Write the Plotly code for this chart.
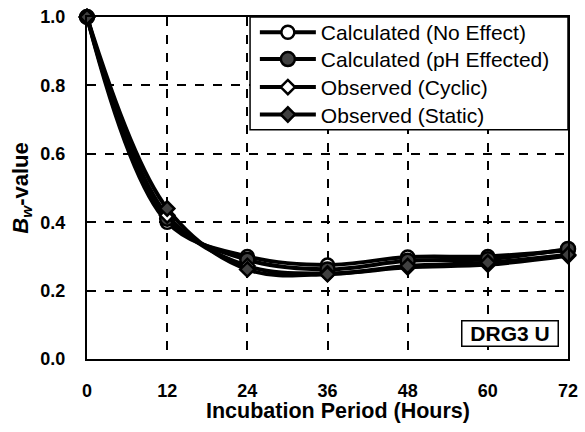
import plotly.graph_objects as go

hours = [0, 12, 24, 36, 48, 60, 72]
calc_no_effect = [1.0, 0.40, 0.300, 0.275, 0.298, 0.300, 0.318]
calc_ph = [1.0, 0.41, 0.290, 0.262, 0.287, 0.292, 0.322]
obs_cyclic = [1.0, 0.42, 0.272, 0.250, 0.268, 0.276, 0.302]
obs_static = [1.0, 0.44, 0.262, 0.248, 0.272, 0.282, 0.305]

names = ["Calculated (No Effect)", "Calculated (pH Effected)",
         "Observed (Cyclic)", "Observed (Static)"]
series = [calc_no_effect, calc_ph, obs_cyclic, obs_static]
symbols = ["circle", "circle", "diamond", "diamond"]
fills = ["white", "#404040", "white", "#404040"]
sizes = [13, 14, 11, 11]

FONT = "Liberation Sans, Arial, sans-serif"
legend_ids = ["legend", "legend2", "legend3", "legend4"]
legend_rows = [0.9545, 0.876, 0.794, 0.714]

fig = go.Figure()
for name, ys, sym, fc, sz, lg in zip(names, series, symbols, fills, sizes, legend_ids):
    fig.add_trace(go.Scatter(
        x=hours, y=ys, name=name, mode="lines+markers",
        line=dict(color="black", width=4, shape="spline", smoothing=1.0),
        marker=dict(symbol=sym, size=sz, color=fc,
                    line=dict(color="black", width=2.5)),
        cliponaxis=False, legend=lg,
    ))

# legend frame (drawn as a box behind the legend entries)
fig.add_shape(type="rect", xref="paper", yref="paper",
              x0=0.339, x1=1.0, y0=0.670, y1=1.0,
              line=dict(color="black", width=1.5), fillcolor="white",
              layer="above")

legend_common = dict(
    x=0.349, xanchor="left", yanchor="middle",
    bgcolor="rgba(0,0,0,0)", borderwidth=0,
    font=dict(size=21, family=FONT, color="black"),
    itemwidth=56,
)
layout_legends = {lg: dict(y=yr, **legend_common) for lg, yr in zip(legend_ids, legend_rows)}

fig.update_layout(
    width=585, height=432,
    margin=dict(l=87, r=17, t=14, b=73),
    paper_bgcolor="white", plot_bgcolor="white",
    font=dict(family=FONT, color="black"),
    showlegend=True,
    annotations=[
        dict(x=0.879, y=0.076, xref="paper", yref="paper",
             xanchor="center", yanchor="middle",
             text="<b>DRG3 U</b>", showarrow=False,
             width=93, height=22, align="center", valign="middle",
             font=dict(size=21, family=FONT, color="black"),
             bordercolor="black", borderwidth=1.5, borderpad=1,
             bgcolor="white"),
        dict(x=0.521, y=(359.3 - 412) / 345.0, xref="paper", yref="paper",
             text="<b>Incubation Period (Hours)</b>", showarrow=False,
             font=dict(size=21.5, family=FONT, color="black"),
             xanchor="center", yanchor="middle"),
    ],
    **layout_legends,
)

fig.update_xaxes(
    range=[0, 72], tickmode="array", tickvals=hours,
    ticktext=[str(h) for h in hours],
    showgrid=True, gridcolor="black", gridwidth=1.5, griddash="dash",
    showline=True, linecolor="black", linewidth=2, mirror=True,
    ticks="", zeroline=False, automargin=False,
    tickfont=dict(size=18, family=FONT, color="black", weight="bold"),
    ticklabelstandoff=14,
)
fig.update_yaxes(
    range=[0, 1.0], tickmode="linear", tick0=0, dtick=0.2, tickformat=".1f",
    showgrid=True, gridcolor="black", gridwidth=1.5, griddash="dash",
    showline=True, linecolor="black", linewidth=2, mirror=True,
    ticks="", zeroline=False, automargin=False,
    tickfont=dict(size=18, family=FONT, color="black", weight="bold"),
    ticklabelstandoff=16,
    title=dict(text="<b><i>B</i><sub><i>w</i></sub>-value</b>",
               font=dict(size=22, family=FONT, color="black"), standoff=6),
)

fig.write_html("out.html")
